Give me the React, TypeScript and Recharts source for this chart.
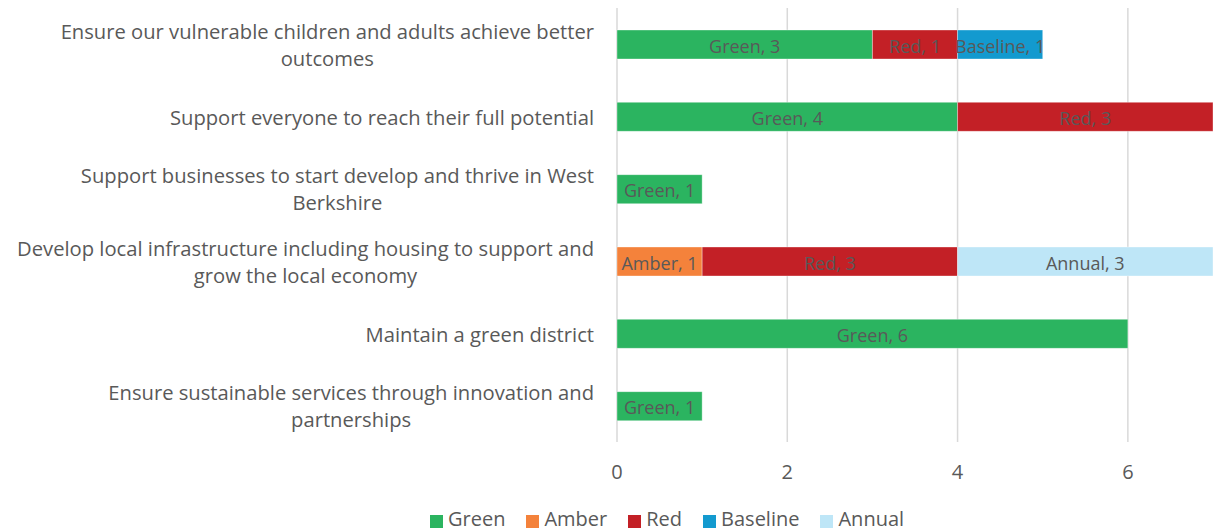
import React from "react";
import { BarChart, Bar, XAxis, YAxis, CartesianGrid, LabelList, Legend } from "recharts";

const categories = [
  "Ensure our vulnerable children and adults achieve better outcomes",
  "Support everyone to reach their full potential",
  "Support businesses to start develop and thrive in West Berkshire",
  "Develop local infrastructure including housing to support and grow the local economy",
  "Maintain a green district",
  "Ensure sustainable services through innovation and partnerships",
];

const green = [3, 4, 1, 0, 6, 1];
const amber = [0, 0, 0, 1, 0, 0];
const red = [1, 3, 0, 3, 0, 0];
const baseline = [1, 0, 0, 0, 0, 0];
const annual = [0, 0, 0, 3, 0, 0];

const xTicks = [0, 2, 4, 6];
const xDomain = [0, 7];

const SERIES = [
  { key: "Green", values: green, color: "#2BB460" },
  { key: "Amber", values: amber, color: "#F4823B" },
  { key: "Red", values: red, color: "#C32026" },
  { key: "Baseline", values: baseline, color: "#139ACF" },
  { key: "Annual", values: annual, color: "#BEE6F7" },
];

const FONT = "'Open Sans', sans-serif";
const TEXT = "#595959";

const data = categories.map((name, i) => {
  const row: Record<string, any> = { name };
  SERIES.forEach((s) => (row[s.key] = s.values[i]));
  return row;
});

let ctx: CanvasRenderingContext2D | null = null;
function measure(text: string, size: number) {
  if (!ctx) ctx = document.createElement("canvas").getContext("2d");
  if (!ctx) return text.length * size * 0.52;
  ctx.font = `${size}px "Open Sans"`;
  return ctx.measureText(text).width;
}

// wrap at ~61 characters, like the original
function wrap(label: string, maxChars = 61) {
  const lines: string[] = [];
  let cur = "";
  label.split(" ").forEach((w) => {
    const next = cur ? cur + " " + w : w;
    if (next.length > maxChars && cur) {
      lines.push(cur);
      cur = w;
    } else cur = next;
  });
  if (cur) lines.push(cur);
  return lines;
}

function CategoryTick({ x, y, payload }: any) {
  const size = 20.2;
  const lines = wrap(payload.value);
  const blockW = Math.max(...lines.map((l) => measure(l, size)));
  const cx = x - 15 - blockW / 2;
  const lh = 27;
  const startY = y - ((lines.length - 1) * lh) / 2;
  return (
    <text textAnchor="middle" fill={TEXT} fontSize={size} fontFamily={FONT}>
      {lines.map((l, i) => (
        <tspan key={i} x={cx} y={startY + i * lh} dominantBaseline="central">
          {l}
        </tspan>
      ))}
    </text>
  );
}

function makeLabel(name: string) {
  return (props: any) => {
    const { x, y, width, height, value } = props;
    if (!value) return null;
    return (
      <text
        x={x + width / 2}
        y={y + height / 2 + 1}
        textAnchor="middle"
        dominantBaseline="central"
        fill={TEXT}
        fontSize={18}
        fontFamily={FONT}
      >
        {`${name}, ${value}`}
      </text>
    );
  };
}

function LegendRow() {
  return (
    <div
      style={{
        display: "flex",
        alignItems: "center",
        height: 24,
        paddingLeft: 430,
        fontFamily: FONT,
        fontSize: 20,
        lineHeight: "20px",
        color: TEXT,
      }}
    >
      {SERIES.map((s) => (
        <div key={s.key} style={{ display: "flex", alignItems: "center", marginRight: 21 }}>
          <span
            style={{
              width: 13,
              height: 13,
              background: s.color,
              marginRight: 5,
              display: "inline-block",
              position: "relative",
              top: 2,
            }}
          />
          <span>{s.key}</span>
        </div>
      ))}
    </div>
  );
}

export default function App() {
  return (
    <div style={{ position: "absolute", left: 0, top: 0, background: "#fff" }}>
      <BarChart
        width={1214}
        height={531}
        data={data}
        layout="vertical"
        margin={{ top: 8, right: 1, left: 0, bottom: 0 }}
        barCategoryGap={0}
      >
        <CartesianGrid
          horizontal={false}
          vertical
          stroke="#D9D9D9"
          strokeWidth={1.5}
          verticalCoordinatesGenerator={({ xAxis, offset }: any) => {
            if (xAxis && typeof xAxis.scale === "function") return xTicks.map((t) => xAxis.scale(t));
            return xTicks.map(
              (t) => offset.left + ((t - xDomain[0]) / (xDomain[1] - xDomain[0])) * offset.width
            );
          }}
        />
        <XAxis
          type="number"
          domain={xDomain}
          ticks={xTicks}
          axisLine={false}
          tickLine={false}
          tickMargin={17}
          height={65}
          tick={{ fill: TEXT, fontSize: 20, fontFamily: FONT }}
          allowDataOverflow
        />
        <YAxis
          type="category"
          dataKey="name"
          width={617}
          axisLine={false}
          tickLine={false}
          tick={<CategoryTick />}
          interval={0}
        />
        <Legend verticalAlign="bottom" content={() => <LegendRow />} wrapperStyle={{ left: 0, width: 1214 }} />
        {SERIES.map((s) => (
          <Bar
            key={s.key}
            dataKey={s.key}
            stackId="a"
            fill={s.color}
            stroke="rgba(255,255,255,0.35)"
            strokeWidth={1}
            barSize={29}
            isAnimationActive={false}
          >
            <LabelList dataKey={s.key} content={makeLabel(s.key)} />
          </Bar>
        ))}
      </BarChart>
    </div>
  );
}
